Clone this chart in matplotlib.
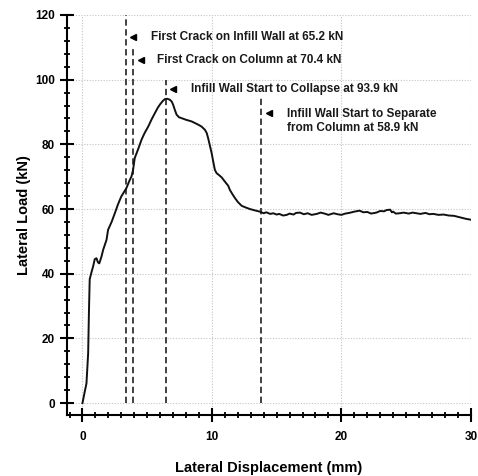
import matplotlib
matplotlib.use("Agg")
import matplotlib.pyplot as plt
from matplotlib.ticker import MultipleLocator

plt.rcParams['font.family'] = ['Liberation Sans', 'DejaVu Sans']
plt.rcParams['font.weight'] = 'bold'

# Load-displacement curve
disp = [0, 0.15, 0.31, 0.44, 0.5, 0.56, 0.7, 0.82, 0.95, 1.08, 1.2, 1.3, 1.47, 1.6, 1.86,
        1.98, 2.25, 2.5, 2.75, 3.0, 3.2, 3.4, 3.6, 3.79, 3.91, 4.04, 4.3, 4.56, 4.8, 5.08,
        5.35, 5.6, 5.8, 5.98, 6.2, 6.37, 6.55, 6.75, 6.9, 7.0, 7.15, 7.27, 7.45, 7.66, 8.0,
        8.43, 8.94, 9.2, 9.46, 9.6, 9.71, 9.85, 9.98, 10.1, 10.23, 10.36, 10.55, 10.75, 11.0,
        11.26, 11.39, 11.6, 11.78, 12.0, 12.3, 12.6, 12.94, 13.3, 13.7, 14.0, 14.2, 14.5,
        14.74, 15.0, 15.2, 15.5, 15.78, 16.0, 16.3, 16.5, 16.8, 17.1, 17.4, 17.7, 18.1, 18.4,
        18.7, 19.0, 19.4, 19.7, 20.0, 20.3, 20.6, 21.0, 21.4, 21.7, 22.0, 22.3, 22.7, 23.0,
        23.3, 23.5, 23.77, 23.9, 24.0, 24.2, 24.5, 24.8, 25.2, 25.5, 25.8, 26.1, 26.5, 26.8,
        27.1, 27.5, 27.9, 28.3, 28.7, 29.0, 29.3, 29.6, 30.0]
load = [0, 3.0, 6.1, 15.4, 28.0, 38.3, 40.5, 42.2, 44.5, 44.8, 43.5, 43.2, 45.3, 47.4, 50.5,
        53.6, 56.0, 58.7, 61.5, 63.9, 65.2, 66.5, 68.5, 70.1, 72.1, 75.8, 78.5, 81.4, 83.5, 85.5,
        87.8, 89.7, 91.2, 92.3, 93.4, 94.0, 94.1, 93.8, 93.2, 92.3, 90.5, 89.2, 88.4, 88.1, 87.6,
        87.1, 86.1, 85.5, 84.5, 83.5, 81.9, 79.5, 77.3, 74.7, 72.1, 71.1, 70.5, 69.8, 68.5,
        67.2, 65.9, 64.5, 63.4, 62.2, 61.0, 60.5, 60.0, 59.6, 59.2, 58.7, 59.0, 58.5,
        58.7, 58.3, 58.5, 58.0, 58.2, 58.6, 58.3, 58.8, 58.9, 58.4, 58.7, 58.2, 58.5, 58.9,
        58.6, 58.2, 58.7, 58.4, 58.2, 58.6, 58.8, 59.2, 59.5, 59.0, 59.1, 58.6, 58.9, 59.4,
        59.3, 59.7, 59.8, 59.0, 59.2, 58.6, 58.7, 58.9, 58.6, 58.9, 58.7, 58.5, 58.8, 58.4,
        58.5, 58.2, 58.3, 58.0, 57.9, 57.6, 57.3, 57.0, 56.7]

# Event markers
event_x = [3.35, 3.94, 6.42, 13.79]
event_top = [120, 110.3, 100, 94.4]
arrow_x = [3.9, 4.5, 7.0, 14.4]
arrow_y = [113.3, 106.0, 97.2, 89.6]
label_x = [5.3, 5.75, 8.35, 15.8]
label_y = [113.3, 106.0, 97.2, 87.3]
labels = ["First Crack on Infill Wall at 65.2 kN",
          "First Crack on Column at 70.4 kN",
          "Infill Wall Start to Collapse at 93.9 kN",
          "Infill Wall Start to Separate\nfrom Column at 58.9 kN"]

fig = plt.figure(figsize=(4.78, 4.76), dpi=100)
ax = fig.add_axes([0.140, 0.128, 0.845, 0.8405])

ax.grid(True, which='major', color='#c4c4c4', linestyle=(0, (1, 1.5)), linewidth=0.8)
ax.set_axisbelow(True)

ax.vlines(event_x, 0, event_top, colors='#333333', linestyles=(0, (3.5, 2)), linewidth=1.3)
ax.plot(disp, load, color='#111111', linewidth=1.4, zorder=3)
ax.plot(arrow_x, arrow_y, linestyle='none', marker='<', color='black', markersize=5)
for x, y, t in zip(label_x, label_y, labels):
    ax.text(x, y, t, ha='left', va='center', fontsize=8.5, fontweight='bold',
            color='#1a1a1a', linespacing=1.25)

ax.set_xlim(-1.2, 30)
ax.set_ylim(-3.7, 120)
ax.xaxis.set_major_locator(MultipleLocator(10))
ax.xaxis.set_minor_locator(MultipleLocator(1))
ax.yaxis.set_major_locator(MultipleLocator(20))
ax.yaxis.set_minor_locator(MultipleLocator(4))

for s in ['top', 'right']:
    ax.spines[s].set_visible(False)
for s in ['left', 'bottom']:
    ax.spines[s].set_linewidth(1.5)
    ax.spines[s].set_color('black')

ax.tick_params(which='major', direction='inout', length=9.5, width=1.5, labelsize=8.5)
ax.tick_params(which='minor', direction='inout', length=5, width=1.3)
ax.tick_params(axis='y', which='major', pad=4)
ax.tick_params(axis='x', which='major', pad=7)

ax.set_xlabel('Lateral Displacement (mm)', fontsize=10.5, fontweight='bold', labelpad=12.5)
ax.set_ylabel('Lateral Load (kN)', fontsize=10.5, fontweight='bold', labelpad=3)

fig.savefig('out.png', dpi=100)
